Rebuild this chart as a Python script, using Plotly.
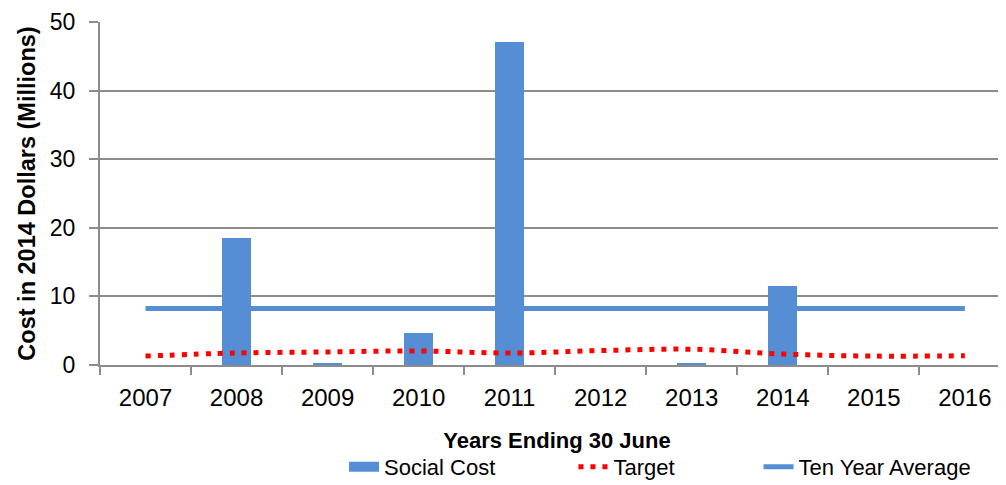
import plotly.graph_objects as go

years = ["2007", "2008", "2009", "2010", "2011", "2012", "2013", "2014", "2015", "2016"]
social_cost = [0, 18.5, 0.15, 4.6, 47.1, 0, 0.15, 11.5, 0, 0]
target = [1.3, 1.75, 1.9, 2.05, 1.75, 2.1, 2.3, 1.6, 1.3, 1.35]
ten_year_avg = [8.25] * 10

FONT = "Liberation Sans, Arial"
BLUE = "#558ED5"
GRID = "#8c8c8c"

fig = go.Figure()
fig.add_trace(go.Bar(x=years, y=social_cost, name="Social Cost", showlegend=False,
                     marker=dict(color=BLUE, line=dict(width=0)), width=0.32))
fig.add_trace(go.Scatter(x=years, y=target, name="Target", mode="lines", legend="legend2",
                         line=dict(color="#FF0000", width=5, dash="5px,7px", shape="spline")))
fig.add_trace(go.Scatter(x=years, y=ten_year_avg, name="Ten Year Average", mode="lines",
                         legend="legend3", line=dict(color=BLUE, width=5)))
# legend entry for the bar series (wide swatch)
fig.add_trace(go.Scatter(x=[None], y=[None], name="Social Cost", mode="lines", legend="legend",
                         line=dict(color=BLUE, width=14)))

leg_common = dict(orientation="h", yanchor="middle", y=-0.297, xanchor="left",
                  font=dict(size=22), bgcolor="rgba(0,0,0,0)")
fig.update_layout(
    width=1006, height=485,
    margin=dict(l=92, r=0, t=14, b=128),
    plot_bgcolor="white", paper_bgcolor="white",
    font=dict(family=FONT, size=22, color="#000000"),
    showlegend=True,
    legend=dict(x=0.267, **leg_common),
    legend2=dict(x=0.518, **leg_common),
    legend3=dict(x=0.7205, **leg_common),
    bargap=0,
)
fig.update_xaxes(
    type="category", range=[-0.5, 9.54], automargin=False,
    tickson="boundaries", ticks="outside", ticklen=8, tickcolor=GRID, tickwidth=2,
    showline=True, linecolor=GRID, linewidth=2, showgrid=False,
    ticklabelstandoff=10,
    title=dict(text="<b>Years Ending 30 June</b>", font=dict(size=22), standoff=23),
    tickfont=dict(size=24),
)
fig.update_yaxes(
    range=[0, 50], tickvals=[0, 10, 20, 30, 40, 50], automargin=False,
    ticks="outside", ticklen=9, tickcolor=GRID, tickwidth=2,
    showline=True, linecolor=GRID, linewidth=2,
    showgrid=True, gridcolor=GRID, gridwidth=1.5,
    zeroline=False, ticklabelstandoff=9,
    title=dict(text="<b>Cost in 2014 Dollars (Millions)</b>", font=dict(size=23.5), standoff=8),
    tickfont=dict(size=23),
)

fig.write_html("out.html")
